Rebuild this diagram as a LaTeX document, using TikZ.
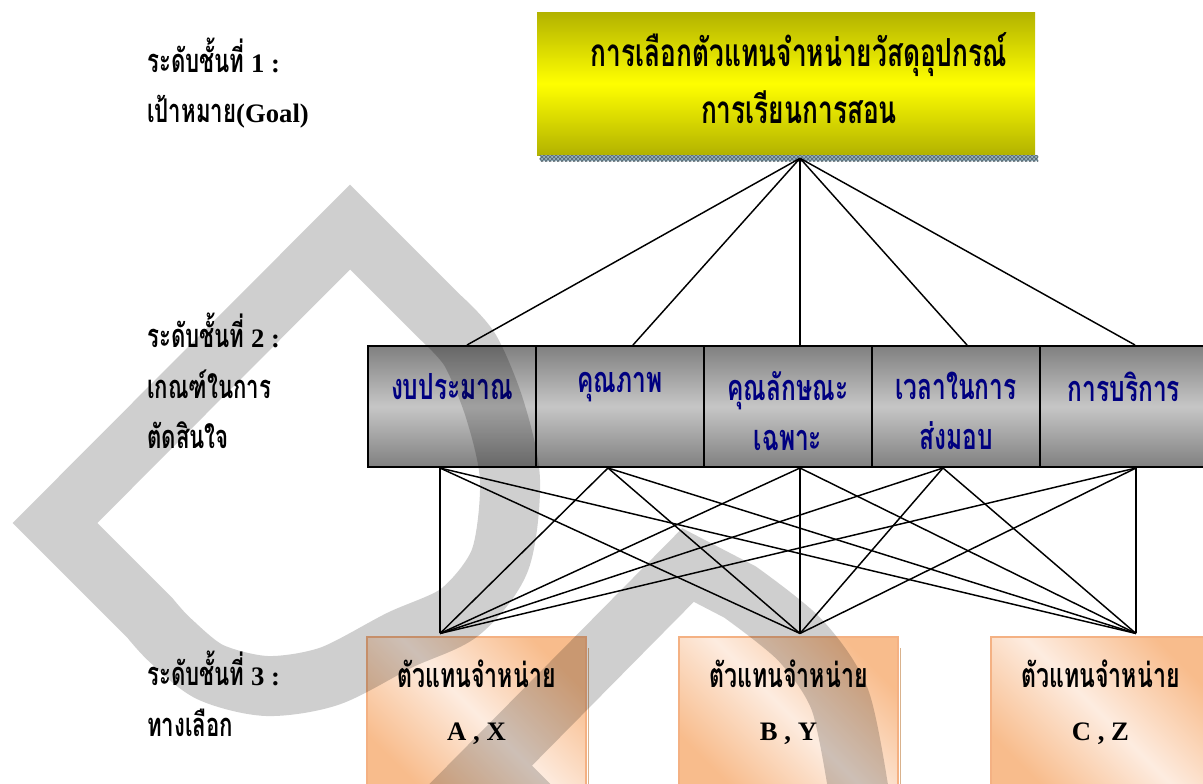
\documentclass[tikz,border=0pt]{standalone}
\usepackage{fontspec}
\setmainfont{Liberation Serif}
\newfontfamily\thai[Script=Thai,FakeStretch=0.68]{Loma}
\newcommand\thaisize[1]{\thai\fontsize{#1}{\baselineskip}\selectfont}
\usepackage{xcolor}
\usetikzlibrary{calc,positioning,patterns}
\definecolor{olivey}{RGB}{178,178,0}
\definecolor{critgray}{RGB}{128,128,128}
\definecolor{critlight}{RGB}{198,198,198}
\definecolor{navytext}{RGB}{0,0,128}
\definecolor{peach}{RGB}{248,188,140}
\definecolor{peachlight}{RGB}{253,236,224}
\definecolor{peachline}{RGB}{244,177,131}
\definecolor{stripblue}{RGB}{150,178,192}

\begin{document}
\begin{tikzpicture}[x=0.75pt, y=-0.75pt,
    goalbox/.style={rectangle, minimum width=373.5pt, minimum height=107.25pt,
        top color=olivey, bottom color=olivey, middle color=yellow},
    goaltext/.style={font=\bfseries\thai\fontsize{29}{42.75}\selectfont, align=center},
    critbox/.style={rectangle, draw=black, line width=1.5pt, minimum width=126pt,
        minimum height=90.75pt, top color=critgray, bottom color=critgray, middle color=critlight},
    crittext/.style={font=\bfseries\thai\fontsize{27}{37.5}\selectfont, text=navytext, align=center},
    altbox/.style={rectangle, draw=peachline, line width=0.8pt, minimum width=164.25pt,
        minimum height=114.75pt, left color=peach, right color=peach, middle color=peachlight,
        shading angle=135},
    alttext/.style={font=\bfseries\fontsize{20}{39.75}\selectfont, align=center},
    leveltext/.style={font=\bfseries\fontsize{20}{38}\selectfont, align=left, anchor=west, inner sep=0pt},
    link/.style={line width=1.1pt},
    wmark/.style={line width=45pt, draw=black, draw opacity=0.19, line join=miter}
]
\useasboundingbox (0,0) rectangle (1203,783);

\node[leveltext] (lvl1) at (147,83) {{\thaisize{24.5}ระดับชั้นที่} 1 :\\{\thaisize{24.5}เป้าหมาย}(Goal)};
\node[leveltext] (lvl2) at (147,381) {{\thaisize{24.5}ระดับชั้นที่} 2 :\\{\thaisize{24.5}เกณฑ์ในการ}\\{\thaisize{24.5}ตัดสินใจ}};
\node[leveltext] (lvl3) at (147,694) {{\thaisize{24.5}ระดับชั้นที่} 3 :\\{\thaisize{24.5}ทางเลือก}};

\node[goalbox] (goal) at (786,83.5) {};
\node[goaltext] (goaltxt) at (799,78) {การเลือกตัวแทนจำหน่ายวัสดุอุปกรณ์\\การเรียนการสอน};
\fill[stripblue] ($(goal.south west)+(3,0)$) rectangle ($(goal.south east)+(3,6)$);
\fill[pattern=crosshatch, pattern color=stripblue!55!black] ($(goal.south west)+(3,0)$) rectangle ($(goal.south east)+(3,6)$);
\coordinate (apex) at ($(goal.south)+(14,3)$);

\node[critbox] (crit1) at (452,406.5) {};
\node[critbox] (crit2) at (620,406.5) {};
\node[critbox] (crit3) at (788,406.5) {};
\node[critbox] (crit4) at (956,406.5) {};
\node[critbox] (crit5) at (1124,406.5) {};
\node[crittext] (crit1txt) at (452,387) {งบประมาณ};
\node[crittext] (crit2txt) at (620,387) {คุณภาพ};
\node[crittext] (crit3txt) at (788,411) {คุณลักษณะ\\เฉพาะ};
\node[crittext] (crit4txt) at (956,411) {เวลาในการ\\ส่งมอบ};
\node[crittext] (crit5txt) at (1124,387) {การบริการ};

\node[altbox] (alt1) at (476.5,713.5) {};
\node[altbox] (alt2) at (788.5,713.5) {};
\node[altbox] (alt3) at (1100.5,713.5) {};
\draw[brown!60, line width=1pt] ($(alt1.north east)+(2,12)$) -- ($(alt1.south east)+(2,0)$);
\draw[brown!60, line width=1pt] ($(alt2.north east)+(2,12)$) -- ($(alt2.south east)+(2,0)$);
\node[alttext] (alt1txt) at (476.5,702) {{\thaisize{25.5}ตัวแทนจำหน่าย}\\A , X};
\node[alttext] (alt2txt) at (788.5,702) {{\thaisize{25.5}ตัวแทนจำหน่าย}\\B , Y};
\node[alttext] (alt3txt) at (1100.5,702) {{\thaisize{25.5}ตัวแทนจำหน่าย}\\C , Z};

\coordinate (c1b) at ($(crit1.south)+(-12,0)$);
\coordinate (c2b) at ($(crit2.south)+(-12,0)$);
\coordinate (c3b) at ($(crit3.south)+(12,0)$);
\coordinate (c4b) at ($(crit4.south)+(-13,0)$);
\coordinate (c5b) at ($(crit5.south)+(12,0)$);
\coordinate (a1top) at ($(alt1.north)+(-36.5,-3)$);
\coordinate (a2top) at ($(alt2.north)+(11.5,-3)$);
\coordinate (a3top) at ($(alt3.north)+(35.5,-3)$);

\draw[link]
(apex) edge ($(crit1.north)+(15,0)$)
(apex) edge ($(crit2.north)+(13,0)$)
(apex) edge ($(crit3.north)+(12,0)$)
(apex) edge ($(crit4.north)+(11,0)$)
(apex) edge ($(crit5.north)+(11,0)$);
\draw[link]
(c1b) edge (a1top) (c1b) edge (a2top) (c1b) edge (a3top)
(c2b) edge (a1top) (c2b) edge (a2top) (c2b) edge (a3top)
(c3b) edge (a1top) (c3b) edge (a2top) (c3b) edge (a3top)
(c4b) edge (a1top) (c4b) edge (a2top) (c4b) edge (a3top)
(c5b) edge (a1top) (c5b) edge (a2top) (c5b) edge (a3top);

\begin{scope}
\clip (0,0) rectangle (1203,783);
\draw[wmark]
(55,523) -- (350,227) -- plot[smooth] coordinates {(440,317) (470,350) (495,410) (510,480)
    (500,560) (460,612) (400,640) (330,676) (267,686) (210,672) (170,640) (150,618)} -- cycle
(440,816) -- (688,565) -- plot[smooth] coordinates {(740,592) (800,640) (840,700) (860,800)}
(490,766) -- (570,846);
\end{scope}
\end{tikzpicture}
\end{document}
